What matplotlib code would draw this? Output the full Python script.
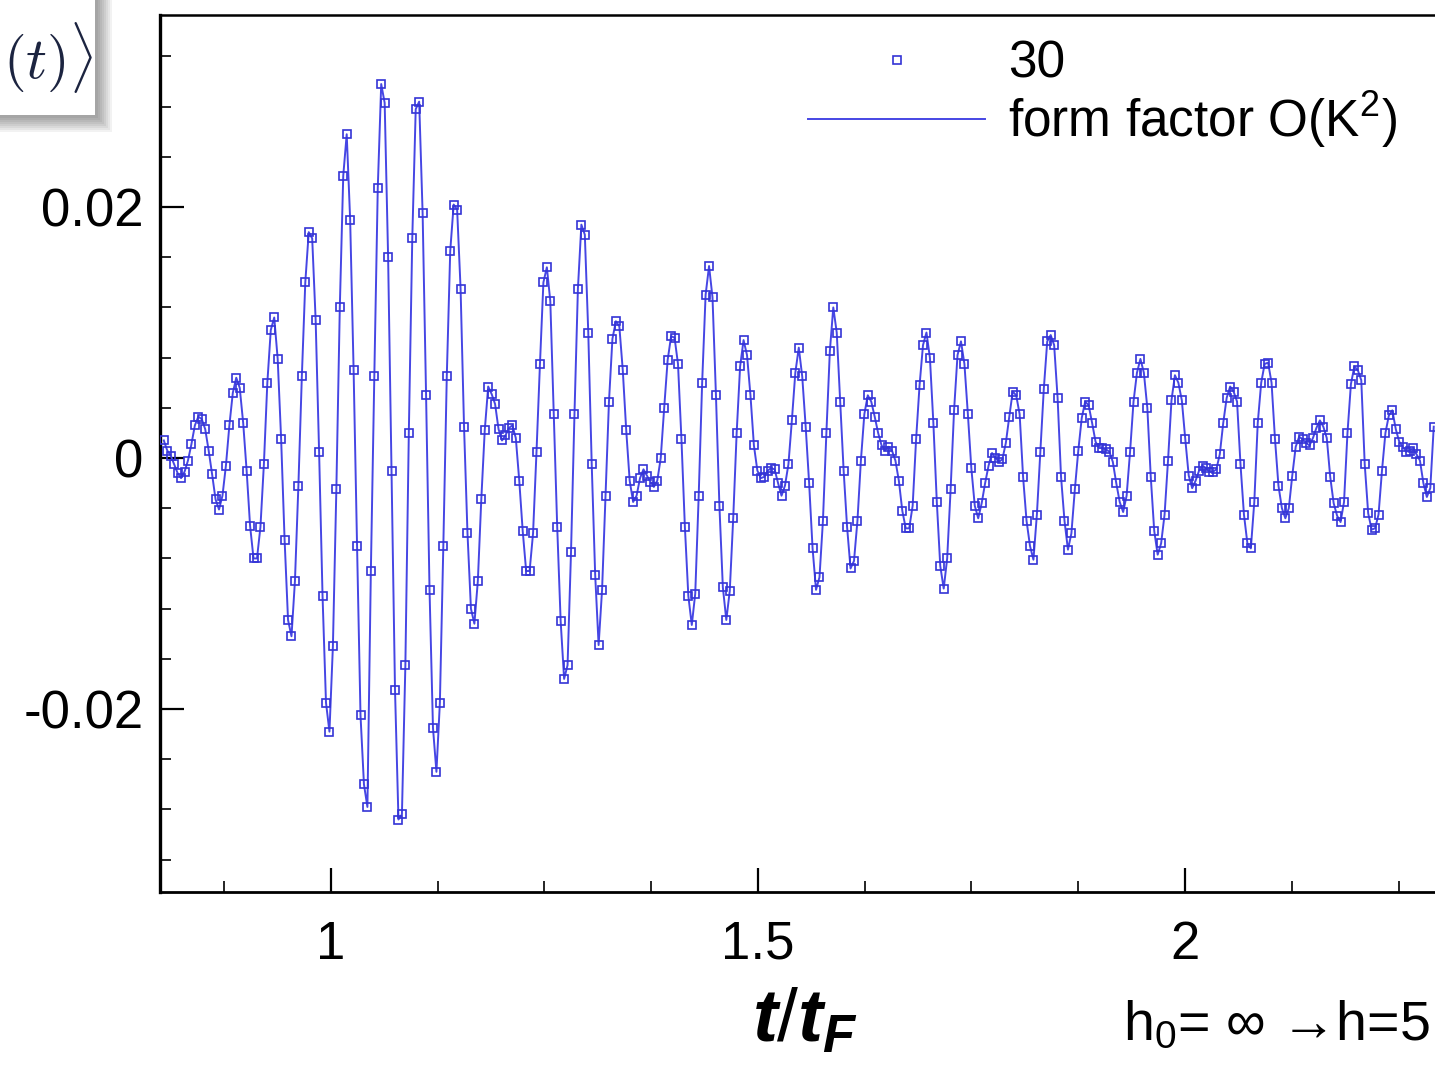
import matplotlib
matplotlib.use('Agg')
import matplotlib.pyplot as plt
from matplotlib.patches import Rectangle
import numpy as np

plt.rcParams['font.family'] = ['Liberation Sans', 'DejaVu Sans']
plt.rcParams['mathtext.fontset'] = 'custom'
plt.rcParams['mathtext.rm'] = 'Liberation Sans'
plt.rcParams['mathtext.it'] = 'Liberation Sans:italic:bold'
plt.rcParams['mathtext.bf'] = 'Liberation Sans:bold'

# time grid (t/t_F), uniform sampling
t_start = 0.80445
t_step = 0.00404

# <O(t)> in units of 1e-3, one value per sample
y_milli = [
    1.4, 0.6, 0.2, -0.5, -1.2, -1.6, -1.1, -0.2, 1.1, 2.6,
    3.3, 3.1, 2.3, 0.6, -1.3, -3.3, -4.1, -3.0, -0.6, 2.6,
    5.2, 6.4, 5.6, 2.8, -1.0, -5.4, -8.0, -8.0, -5.5, -0.5,
    6.0, 10.2, 11.2, 7.9, 1.5, -6.5, -12.9, -14.2, -9.8, -2.2,
    6.5, 14.0, 18.0, 17.5, 11.0, 0.5, -11.0, -19.5, -21.8, -15.0,
    -2.5, 12.0, 22.5, 25.8, 19.0, 7.0, -7.0, -20.5, -26.0, -27.8,
    -9.0, 6.5, 21.5, 29.8, 28.3, 16.0, -1.0, -18.5, -28.8, -28.4,
    -16.5, 2.0, 17.5, 27.8, 28.4, 19.5, 5.0, -10.5, -21.5, -25.0,
    -19.5, -7.0, 6.5, 16.5, 20.2, 19.8, 13.5, 2.5, -6.0, -12.0,
    -13.2, -9.8, -3.3, 2.2, 5.7, 5.1, 4.3, 2.3, 1.4, 1.8,
    2.4, 2.6, 1.6, -1.8, -5.8, -9.0, -9.0, -6.0, 0.5, 7.5,
    14.0, 15.2, 12.5, 3.5, -5.5, -13.0, -17.6, -16.5, -7.5, 3.5,
    13.5, 18.6, 17.8, 10.0, -0.5, -9.3, -14.9, -10.5, -3.0, 4.5,
    9.5, 10.9, 10.5, 7.0, 2.2, -1.8, -3.5, -3.0, -1.6, -0.9,
    -1.4, -1.9, -2.3, -1.8, 0.0, 4.0, 7.8, 9.7, 9.6, 7.5,
    1.5, -5.5, -11.0, -13.3, -10.8, -3.0, 6.0, 13.0, 15.3, 12.8,
    5.0, -3.8, -10.3, -12.9, -10.6, -4.8, 2.0, 7.3, 9.4, 8.2,
    5.0, 1.0, -1.0, -1.6, -1.5, -1.0, -0.8, -0.9, -2.0, -3.0,
    -2.2, -0.5, 3.0, 6.8, 8.8, 6.5, 2.5, -2.0, -7.2, -10.5,
    -9.5, -5.0, 2.0, 8.5, 12.0, 10.0, 4.5, -1.0, -5.5, -8.8,
    -8.2, -5.0, -0.2, 3.5, 5.0, 4.5, 3.3, 2.0, 1.0, 0.6,
    0.9, 0.6, -0.2, -1.8, -4.2, -5.6, -5.6, -3.8, 1.5, 5.8,
    9.0, 10.0, 8.0, 2.8, -3.5, -8.6, -10.4, -8.0, -2.5, 3.8,
    8.2, 9.3, 7.5, 3.5, -0.8, -3.8, -4.8, -3.6, -2.0, -0.6,
    0.4, 0.0, -0.3, -0.1, 1.2, 3.3, 5.3, 5.0, 3.5, -1.5,
    -5.0, -7.0, -8.1, -4.5, 0.5, 5.5, 9.3, 9.8, 9.0, 4.8,
    -1.5, -5.0, -7.3, -6.0, -2.5, 0.6, 3.2, 4.5, 4.2, 2.8,
    1.3, 0.8, 0.8, 0.7, 0.5, -0.3, -2.0, -3.5, -4.3, -3.0,
    0.5, 4.5, 6.8, 7.9, 6.8, 4.0, -1.5, -5.8, -7.7, -6.8,
    -4.5, -0.2, 4.6, 6.6, 6.0, 4.6, 1.5, -1.4, -2.4, -1.8,
    -1.0, -0.6, -0.8, -1.1, -1.1, -0.9, 0.3, 2.8, 4.8, 5.7,
    5.3, 4.5, -0.5, -4.5, -6.8, -7.2, -3.5, 2.8, 6.0, 7.5,
    7.6, 6.0, 1.5, -2.2, -4.0, -4.8, -4.0, -1.4, 0.9, 1.7,
    1.5, 1.2, 1.0, 1.6, 2.4, 3.0, 2.5, 1.6, -1.5, -3.6,
    -4.6, -5.1, -3.5, 2.0, 5.9, 7.3, 7.0, 6.2, -0.5, -4.4,
    -5.7, -5.6, -4.5, -1.0, 2.0, 3.4, 3.8, 2.3, 1.3, 0.9,
    0.5, 0.6, 0.8, 0.3, -0.2, -2.0, -3.1, -2.4, 2.5,
]

t = t_start + t_step * np.arange(len(y_milli))
y = np.array(y_milli) * 1e-3

blue_line = '#4646e4'
blue_mark = '#3434d6'

fig = plt.figure(figsize=(14.35, 10.65), dpi=100)
ax = fig.add_axes([0.1115, 0.1624, 0.8955, 0.8235])

ax.plot(t, y, '-', color=blue_line, lw=1.4, zorder=2, label='form factor O(K$^2$)')
ax.plot(t, y, 's', ls='none', ms=6.3, mfc='none', mec=blue_mark, mew=1.2, zorder=3, label='30')

ax.set_xlim(0.80, 2.3044)
ax.set_ylim(-0.03458, 0.0353)

ax.set_xticks([1, 1.5, 2])
ax.set_xticklabels(['1', '1.5', '2'])
ax.set_xticks(np.arange(0.875, 2.3, 0.125), minor=True)
ax.set_yticks([-0.02, 0, 0.02])
ax.set_yticklabels(['-0.02', '0', '0.02'])
ax.set_yticks(np.arange(-0.032, 0.0345, 0.004), minor=True)

ax.tick_params(which='both', direction='in', colors='black', labelsize=38)
ax.tick_params(which='major', length=17, width=1.6)
ax.tick_params(which='minor', length=8, width=1.2)
ax.tick_params(axis='x', which='major', pad=20)
ax.tick_params(axis='y', which='major', pad=12)

ax.spines['left'].set_linewidth(2.4)
ax.spines['bottom'].set_linewidth(2.0)
ax.spines['top'].set_linewidth(1.8)
ax.spines['right'].set_visible(False)

ax.set_xlabel(r'$\mathit{t/t_F}$', fontsize=54)
ax.xaxis.set_label_coords(0.502, -0.108)
ax.xaxis.label.set_va('top')

handles, labels = ax.get_legend_handles_labels()
ax.legend(handles[::-1], labels[::-1], loc='upper left',
          bbox_to_anchor=(808 / 1435, 1 - 40 / 1065), bbox_transform=fig.transFigure,
          frameon=False, fontsize=37, handlelength=3.45, handletextpad=0.45,
          labelspacing=0.0, borderpad=0, borderaxespad=0)

fig.text(1430 / 1435, 1 - 1040 / 1065, 'h$_0$= ∞ →h=5',
         ha='right', va='baseline', fontsize=40)

# white slide box with soft shadow at the top-left corner
for i in range(8):
    fig.add_artist(Rectangle((0, 1 - (118 + 2 * i) / 1065), (98 + 2 * i) / 1435, 1.2,
                             transform=fig.transFigure, facecolor='black',
                             edgecolor='none', alpha=0.05, zorder=10))
fig.add_artist(Rectangle((0, 1 - 115 / 1065), 95 / 1435, 1.2, transform=fig.transFigure,
                         facecolor='white', edgecolor='none', zorder=11))
fig.text(3 / 1435, 1 - 58 / 1065, r'$(t)\rangle$', ha='left', va='center',
         fontsize=42, color='#1c2440', math_fontfamily='cm', zorder=12)

fig.savefig('out.png', dpi=100)
